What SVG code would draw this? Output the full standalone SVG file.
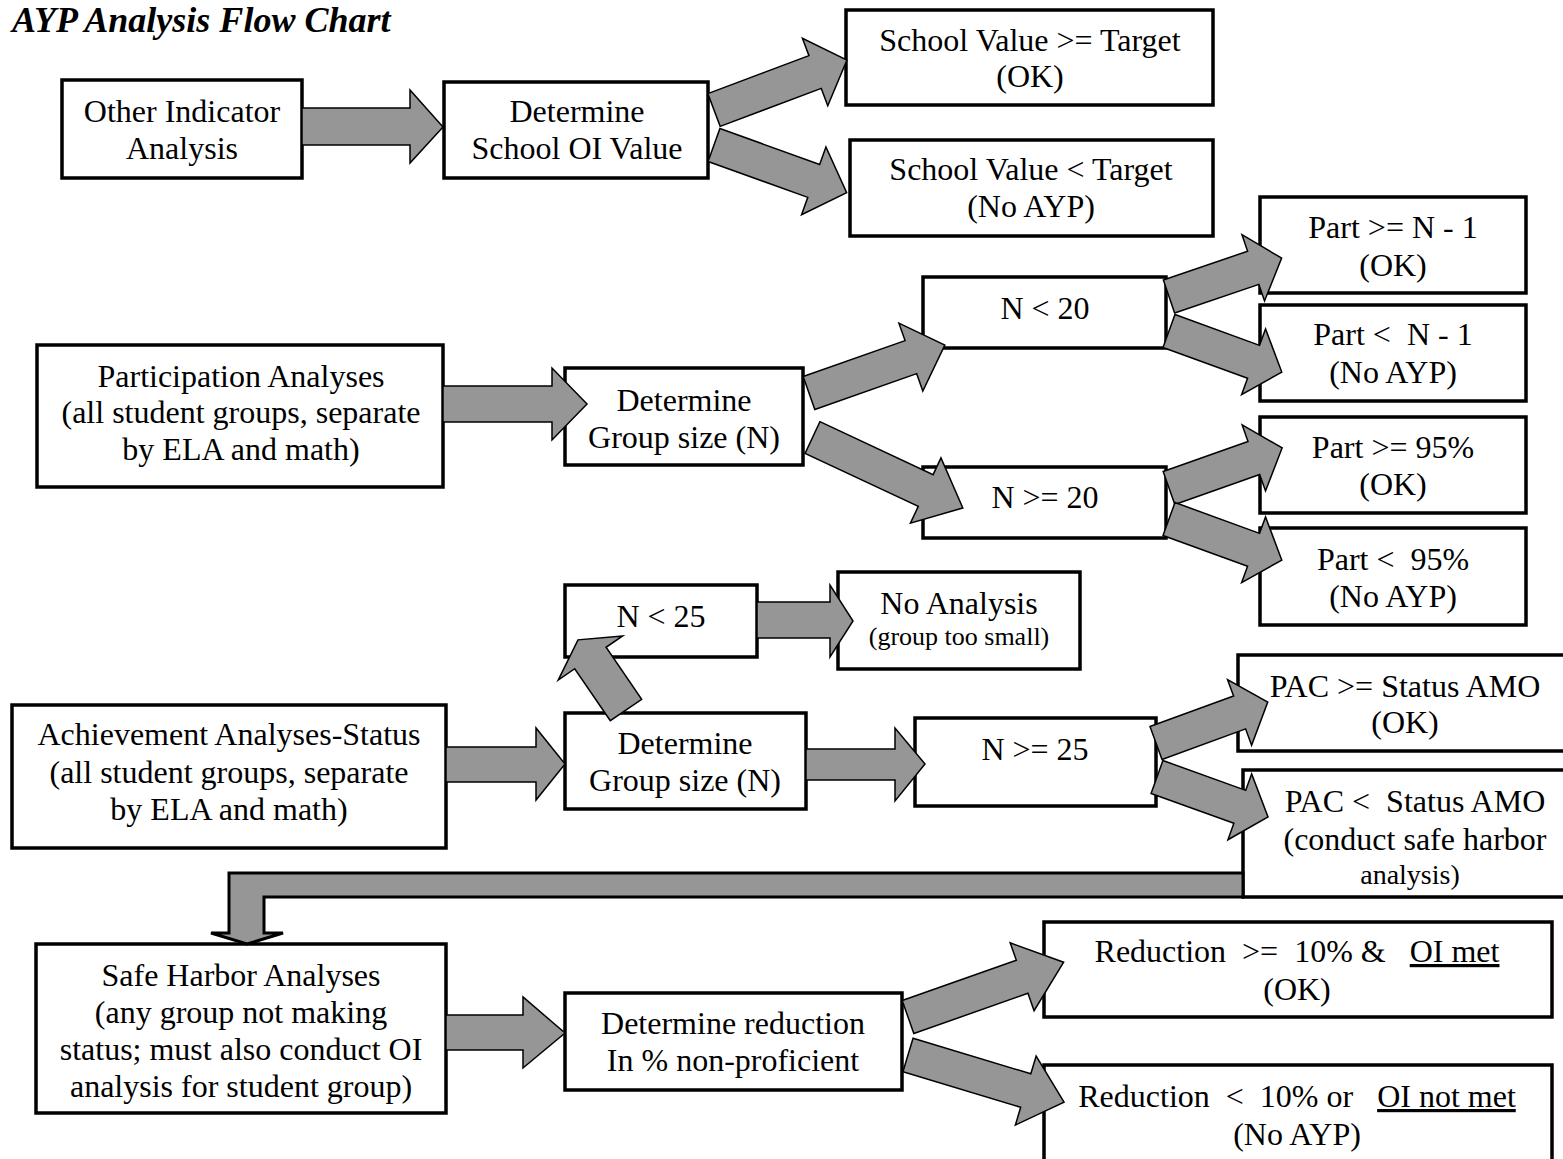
<svg xmlns="http://www.w3.org/2000/svg" width="1563" height="1159" viewBox="0 0 1563 1159">
<style>
.box{fill:#fff;stroke:#000;stroke-width:3.5}
.arr{fill:#969696;stroke:#000;stroke-width:1.5;stroke-linejoin:miter}
.t{font-family:"Liberation Serif","Times New Roman",serif;font-size:32px;text-anchor:middle;fill:#000}
.s{font-size:26px}
.title{font-family:"Liberation Serif","Times New Roman",serif;font-size:36px;font-weight:bold;font-style:italic;fill:#000}
</style>
<rect width="1563" height="1159" fill="#fff"/>
<text class="title" x="12" y="32">AYP Analysis Flow Chart</text>

<g id="n_oi"><rect class="box" x="62" y="80" width="240" height="98"/><text class="t" x="182" y="122">Other Indicator</text><text class="t" x="182" y="159">Analysis</text></g>
<g id="n_det_oi"><rect class="box" x="444" y="82" width="264" height="96"/><text class="t" x="577" y="122">Determine</text><text class="t" x="577" y="159">School OI Value</text></g>
<g id="n_sv_ge"><rect class="box" x="846" y="10" width="367" height="95"/><text class="t" x="1030" y="51">School Value &gt;= Target</text><text class="t" x="1030" y="87">(OK)</text></g>
<g id="n_sv_lt"><rect class="box" x="850" y="140" width="363" height="96"/><text class="t" x="1031" y="180">School Value &lt; Target</text><text class="t" x="1031" y="217">(No AYP)</text></g>

<g id="n_part"><rect class="box" x="37" y="345" width="406" height="142"/><text class="t" x="241" y="387">Participation Analyses</text><text class="t" x="241" y="423">(all student groups, separate</text><text class="t" x="241" y="460">by ELA and math)</text></g>
<g id="n_det1"><rect class="box" x="565" y="368" width="238" height="97"/><text class="t" x="684" y="411">Determine</text><text class="t" x="684" y="448">Group size (N)</text></g>
<g id="n_lt20"><rect class="box" x="923" y="277" width="243" height="71"/><text class="t" x="1045" y="319">N &lt; 20</text></g>
<g id="n_ge20"><rect class="box" x="923" y="467" width="243" height="71"/><text class="t" x="1045" y="508">N &gt;= 20</text></g>
<g id="n_part_ge_n1"><rect class="box" x="1260" y="197" width="266" height="96"/><text class="t" x="1393" y="238">Part &gt;= N - 1</text><text class="t" x="1393" y="276">(OK)</text></g>
<g id="n_part_lt_n1"><rect class="box" x="1260" y="305" width="266" height="96"/><text class="t" x="1393" y="345" xml:space="preserve">Part &lt;  N - 1</text><text class="t" x="1393" y="383">(No AYP)</text></g>
<g id="n_part_ge_95"><rect class="box" x="1260" y="417" width="266" height="96"/><text class="t" x="1393" y="458">Part &gt;= 95%</text><text class="t" x="1393" y="495">(OK)</text></g>
<g id="n_part_lt_95"><rect class="box" x="1260" y="528" width="266" height="97"/><text class="t" x="1393" y="570" xml:space="preserve">Part &lt;  95%</text><text class="t" x="1393" y="607">(No AYP)</text></g>

<g id="n_lt25"><rect class="box" x="565" y="585" width="192" height="72"/><text class="t" x="661" y="627">N &lt; 25</text></g>
<g id="n_noanalysis"><rect class="box" x="838" y="572" width="242" height="97"/><text class="t" x="959" y="614">No Analysis</text><text class="t s" x="959" y="645">(group too small)</text></g>
<g id="n_ach"><rect class="box" x="12" y="705" width="434" height="143"/><text class="t" x="229" y="745">Achievement Analyses-Status</text><text class="t" x="229" y="783">(all student groups, separate</text><text class="t" x="229" y="820">by ELA and math)</text></g>
<g id="n_det2"><rect class="box" x="565" y="713" width="241" height="96"/><text class="t" x="685" y="754">Determine</text><text class="t" x="685" y="791">Group size (N)</text></g>
<g id="n_ge25"><rect class="box" x="915" y="718" width="241" height="88"/><text class="t" x="1035" y="760">N &gt;= 25</text></g>
<g id="n_pac_ge"><rect class="box" x="1238" y="655" width="340" height="96"/><text class="t" x="1405" y="697">PAC &gt;= Status AMO</text><text class="t" x="1405" y="733">(OK)</text></g>
<g id="n_pac_lt"><rect class="box" x="1243" y="770" width="340" height="127"/><text class="t" x="1415" y="812" xml:space="preserve">PAC &lt;  Status AMO</text><text class="t" x="1415" y="850">(conduct safe harbor</text><text class="t" x="1410" y="884" style="font-size:28px">analysis)</text></g>

<g id="n_safe"><rect class="box" x="36" y="944" width="410" height="169"/><text class="t" x="241" y="986">Safe Harbor Analyses</text><text class="t" x="241" y="1023">(any group not making</text><text class="t" x="241" y="1060">status; must also conduct OI</text><text class="t" x="241" y="1097">analysis for student group)</text></g>
<g id="n_detred"><rect class="box" x="565" y="993" width="337" height="97"/><text class="t" x="733" y="1034">Determine reduction</text><text class="t" x="733" y="1071">In % non-proficient</text></g>
<g id="n_red_ge"><rect class="box" x="1044" y="922" width="508" height="95"/><text class="t" x="1297" y="962" xml:space="preserve">Reduction  &gt;=  10% &amp;   <tspan text-decoration="underline">OI met</tspan></text><text class="t" x="1297" y="1000">(OK)</text></g>
<g id="n_red_lt"><rect class="box" x="1044" y="1065" width="508" height="110"/><text class="t" x="1297" y="1107" xml:space="preserve">Reduction  &lt;  10% or   <tspan text-decoration="underline">OI not met</tspan></text><text class="t" x="1297" y="1145">(No AYP)</text></g>

<g id="connectors">
<path class="arr" d="M302,108 H410 V90 L443,127 L410,163 V145 H302 Z"/>
<path class="arr" transform="translate(714,110) rotate(-20.6)" d="M0,-17.5 H108 V-36 L142,0 L108,36 V17.5 H0 Z"/>
<path class="arr" transform="translate(714,145) rotate(19.8)" d="M0,-17.5 H106 V-36 L141,0 L106,36 V17.5 H0 Z"/>

<path class="arr" d="M443,386 H552 V368 L587,404 L552,440 V422 H443 Z"/>
<path class="arr" transform="translate(809,393) rotate(-19.4)" d="M0,-17.5 H108 V-36 L144,0 L108,36 V17.5 H0 Z"/>
<path class="arr" transform="translate(812.5,437.5) rotate(25.1)" d="M0,-17.5 H125 V-36 L166,0 L125,36 V17.5 H0 Z"/>
<path class="arr" transform="translate(1169,296.5) rotate(-18.8)" d="M0,-17.5 H89 V-35 L119,0 L89,35 V17.5 H0 Z"/>
<path class="arr" transform="translate(1169,331) rotate(20)" d="M0,-17.5 H90 V-35 L120,0 L90,35 V17.5 H0 Z"/>
<path class="arr" transform="translate(1169,488) rotate(-19.5)" d="M0,-17.5 H90 V-35 L120,0 L90,35 V17.5 H0 Z"/>
<path class="arr" transform="translate(1169,519) rotate(20)" d="M0,-17.5 H90 V-35 L120,0 L90,35 V17.5 H0 Z"/>

<path class="arr" transform="translate(626,710) rotate(-124.4)" d="M0,-19 H63 V-39 L85,0 L63,39 V19 H0 Z"/>
<path class="arr" d="M757,602 H830 V585 L853,621 L830,657 V638 H757 Z"/>
<path class="arr" d="M446,747 H536 V728 L565,764 L536,800 V782 H446 Z"/>
<path class="arr" d="M806,749 H895 V728 L925,764 L895,801 V780 H806 Z"/>
<path class="arr" transform="translate(1156,743) rotate(-20.1)" d="M0,-17.5 H89 V-35 L119,0 L89,35 V17.5 H0 Z"/>
<path class="arr" transform="translate(1157,777) rotate(19.8)" d="M0,-17.5 H88 V-35 L118,0 L88,35 V17.5 H0 Z"/>

<path class="arr" style="stroke-width:3" d="M229,873 H1243 V897 H264 V933 H283 L247,944 L211,933 H229 Z"/>

<path class="arr" d="M446,1015 H523 V997 L565,1033 L523,1068 V1050 H446 Z"/>
<path class="arr" transform="translate(908,1017) rotate(-19.4)" d="M0,-17.5 H121 V-36 L165,0 L121,36 V17.5 H0 Z"/>
<path class="arr" transform="translate(908,1055) rotate(16.8)" d="M0,-17.5 H123 V-36 L163,0 L123,36 V17.5 H0 Z"/>
</g>
</svg>
